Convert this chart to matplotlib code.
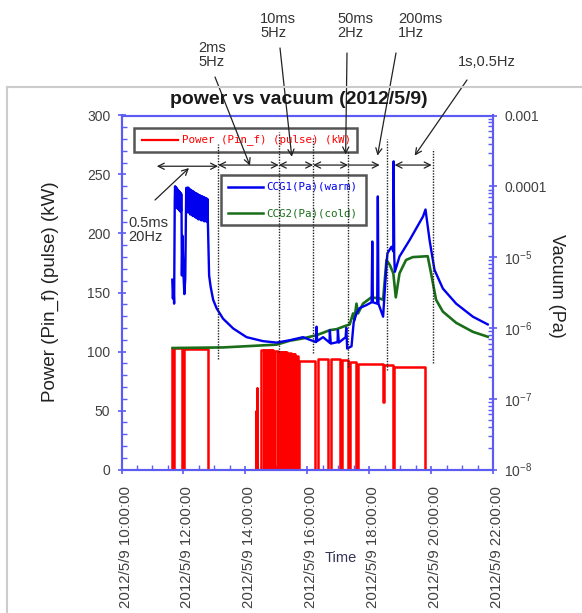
import datetime as dt
import numpy as np
import matplotlib
matplotlib.use("Agg")
import matplotlib.pyplot as plt
import matplotlib.dates as mdates
import matplotlib.transforms as mtransforms
from matplotlib.lines import Line2D
from matplotlib.patches import Rectangle
from matplotlib.ticker import MultipleLocator, FuncFormatter, LogLocator, NullFormatter

plt.rcParams["font.family"] = ["Liberation Sans", "DejaVu Sans"]
plt.rcParams["mathtext.fontset"] = "custom"
plt.rcParams["mathtext.rm"] = "Liberation Sans"
plt.rcParams["mathtext.it"] = "Liberation Sans:italic"

BASE = dt.datetime(2012, 5, 9)

# --------------------
# Data (hours of 2012/5/9)
# --------------------
# power (kW), step-post levels
power_h = [11.62, 11.64, 11.66, 11.69, 11.94, 12.02, 12.80,
           14.33, 14.35, 14.37, 14.39, 14.52,
           14.60, 14.61, 14.68, 14.69, 14.77, 14.78, 14.85, 14.86, 14.90, 14.95,
           15.06, 15.07, 15.14, 15.15, 15.22, 15.23, 15.28, 15.29, 15.33, 15.40,
           15.46, 15.52, 15.56, 15.58, 15.60, 15.67, 15.70, 15.72,
           16.24, 16.35, 16.67, 16.78, 17.05, 17.11, 17.32, 17.39, 17.59, 17.64,
           18.45, 18.47, 18.77, 18.81, 19.79, 21.51]
power_kw = [0, 103, 0, 103, 0, 102.5, 0,
            50, 0, 69, 0, 101,
            0, 101, 0, 101, 0, 101, 0, 101, 0, 100.5,
            0, 100, 0, 100, 0, 99.5, 0, 99.5, 0, 99,
            0, 98, 0, 97.5, 0, 96, 0, 92,
            0, 94, 0, 93.5, 0, 93, 0, 91, 0, 89,
            57, 88.5, 0, 87, 0, 0]

# CCG1 (warm), Pa
ccg1_start_h = [11.64, 11.66, 11.68, 11.70, 11.72]
ccg1_start_pa = [4.8e-6, 2.6e-6, 4.0e-6, 2.2e-6, 6.0e-5]
osc1_h = [11.73, 11.75, 11.77, 11.79, 11.81, 11.83, 11.85, 11.87, 11.89, 11.91, 11.93]
osc1_hi = [1.0e-4, 9.8e-5, 9.5e-5, 9.3e-5, 9.0e-5, 8.8e-5, 8.6e-5, 8.4e-5, 8.2e-5, 8.0e-5, 7.8e-5]
osc1_lo = [8.0e-5, 6.0e-5, 5.0e-5, 5.5e-5, 4.8e-5, 5.0e-5, 4.6e-5, 4.8e-5, 4.4e-5, 4.5e-5, 4.3e-5]
ccg1_gap_h = [11.95, 11.97, 12.00, 12.03, 12.06, 12.09]
ccg1_gap_pa = [5.5e-6, 2.0e-5, 6.0e-6, 3.0e-6, 5.0e-6, 9.5e-5]
osc2_h = [12.12, 12.15, 12.18, 12.21, 12.24, 12.27, 12.30, 12.33, 12.36, 12.39, 12.42,
          12.45, 12.48, 12.51, 12.54, 12.57, 12.60, 12.63, 12.66, 12.69, 12.72, 12.75, 12.78]
osc2_hi = [9.5e-5, 9.6e-5, 9.3e-5, 9.0e-5, 8.9e-5, 8.7e-5, 8.5e-5, 8.4e-5, 8.2e-5, 8.0e-5, 7.9e-5,
           7.8e-5, 7.6e-5, 7.5e-5, 7.4e-5, 7.3e-5, 7.2e-5, 7.1e-5, 7.0e-5, 6.9e-5, 6.8e-5, 6.7e-5, 6.6e-5]
osc2_lo = [4.3e-5, 4.5e-5, 4.2e-5, 4.0e-5, 4.1e-5, 3.9e-5, 3.8e-5, 3.9e-5, 3.7e-5, 3.6e-5, 3.7e-5,
           3.5e-5, 3.4e-5, 3.5e-5, 3.4e-5, 3.3e-5, 3.4e-5, 3.3e-5, 3.2e-5, 3.3e-5, 3.2e-5, 3.2e-5, 3.1e-5]
ccg1_tail_h = [12.83, 12.88, 12.96, 13.07, 13.28, 13.61, 14.04, 14.57, 15.01, 15.44, 15.86,
               16.28, 16.30, 16.32, 16.51, 16.72, 16.73, 16.76, 16.98, 16.99, 17.02, 17.24, 17.26,
               17.29, 17.43, 17.50, 17.59, 17.69, 17.91, 18.08, 18.10, 18.12, 18.26, 18.28, 18.30,
               18.45, 18.56, 18.59, 18.72, 18.78, 18.79, 18.81, 18.83, 18.98, 19.31, 19.74, 19.82,
               19.95, 20.11, 20.38, 20.81, 21.35, 21.83]
ccg1_tail_pa = [5.5e-6, 3.8e-6, 2.5e-6, 1.9e-6, 1.35e-6, 9.8e-7, 7.4e-7, 6.5e-7, 6.2e-7, 6.7e-7, 7.4e-7,
                6.3e-7, 1.04e-6, 6.5e-7, 7.4e-7, 6.2e-7, 9.3e-7, 6.0e-7, 6.3e-7, 9.3e-7, 6.2e-7, 7.4e-7, 1.0e-6,
                5.1e-7, 5.5e-7, 1.2e-6, 1.6e-6, 1.9e-6, 2.1e-6, 2.3e-6, 1.66e-5, 2.3e-6, 2.2e-6, 7.2e-5, 2.2e-6,
                1.44e-6, 8.0e-6, 1.13e-5, 1.4e-5, 1.2e-5, 2.25e-4, 1.0e-5, 6.2e-6, 1.02e-5, 1.75e-5, 3.75e-5, 4.7e-5,
                1.75e-5, 6.6e-6, 3.6e-6, 2.2e-6, 1.44e-6, 1.12e-6]

# CCG2 (cold), Pa
ccg2_h = [11.65, 13.28, 15.01, 15.44, 15.86, 16.30, 16.50, 16.73, 16.95, 17.16, 17.37, 17.48, 17.52,
          17.59, 17.64, 17.80, 18.07, 18.34, 18.45, 18.56, 18.67, 18.78, 18.86, 18.98, 19.19, 19.41,
          19.89, 20.00, 20.16, 20.38, 20.81, 21.35, 21.83]
ccg2_pa = [5.2e-7, 5.3e-7, 5.8e-7, 6.6e-7, 7.1e-7, 7.9e-7, 8.5e-7, 9.3e-7, 9.6e-7, 1.04e-6, 1.12e-6, 1.6e-6, 1.3e-6,
           2.2e-6, 1.6e-6, 2.2e-6, 2.7e-6, 2.6e-6, 2.5e-6, 9.1e-6, 7.7e-6, 5.9e-6, 2.7e-6, 5.9e-6, 9.1e-6, 1.0e-5,
           1.03e-5, 5.9e-6, 2.5e-6, 1.7e-6, 1.18e-6, 8.8e-7, 7.5e-7]

# pulse-mode annotations
mode_edges_h = [13.12, 15.08, 16.19, 17.32, 18.58, 20.06]
mode_edge_top = [276, 286, 281, 270, 280, 272]
mode_edge_bot = [94, 100, 99, 87, 84, 90]
span_start_h = [11.14, 13.12, 15.08, 16.19, 17.32, 18.82]
span_end_h = [13.12, 15.08, 16.19, 17.32, 18.34, 20.02]
span_kw = [257, 258, 258, 258, 258, 258]
span_style = ["<->", "<->", "<->", "<->", "->", "<->"]
mode_labels = ["0.5ms\n20Hz", "2ms\n5Hz", "10ms\n5Hz", "50ms\n2Hz", "200ms\n1Hz", "1s,0.5Hz"]
label_px = [(128, 230), (198, 55), (260, 26), (337, 26), (398, 26), (458, 62)]
arrow_tail_px = [(155, 200), (215, 77), (280, 48), (347, 53), (396, 53), (467, 80)]
arrow_head_h = [12.18, 14.15, 15.50, 17.24, 18.27, 19.47]
arrow_head_kw = [255.5, 257.5, 265, 267, 266, 266]


def to_num(hours):
    return mdates.date2num([BASE + dt.timedelta(hours=h) for h in hours])


# build the blue trace (oscillating blocks drawn as zig-zag between envelopes)
def zigzag(hs, hi, lo):
    out_h, out_p = [], []
    for i, h in enumerate(hs):
        out_h += [h, h + 0.01]
        out_p += [hi[i], lo[i]]
    return out_h, out_p


z1_h, z1_p = zigzag(osc1_h, osc1_hi, osc1_lo)
z2_h, z2_p = zigzag(osc2_h, osc2_hi, osc2_lo)
ccg1_h = ccg1_start_h + z1_h + ccg1_gap_h + z2_h + ccg1_tail_h
ccg1_pa = ccg1_start_pa + z1_p + ccg1_gap_pa + z2_p + ccg1_tail_pa

SPINE = "#5c5cf5"
TXT = "#404040"
BLUE = "#0000ee"

fig = plt.figure(figsize=(5.82, 6.13), dpi=100)
ax = fig.add_axes([121.5 / 582, 1 - 469.5 / 613, 371.5 / 582, 354 / 613])
ax2 = ax.twinx()

ax.step(to_num(power_h), power_kw, where="post", color="#ff0000", lw=1.8, zorder=2)
ax2.plot(to_num(ccg2_h), ccg2_pa, color="#1a6e1a", lw=1.9, zorder=2)
ax2.plot(to_num(ccg1_h), ccg1_pa, color=BLUE, lw=1.7, zorder=3)
for oh, ohi, olo in ((osc1_h, osc1_hi, osc1_lo), (osc2_h, osc2_hi, osc2_lo)):
    ax2.fill_between(to_num(oh), olo, ohi, color=BLUE, lw=0, zorder=3)

ax.set_xlim(to_num([10.0])[0], to_num([22.0])[0])
ax.set_ylim(0, 300)
ax2.set_yscale("log")
ax2.set_ylim(1e-8, 1e-3)

# --------------------
# Ticks / spines
# --------------------
ax.xaxis.set_major_locator(mdates.HourLocator(byhour=range(0, 24, 2)))
ax.xaxis.set_minor_locator(mdates.MinuteLocator(byminute=[0, 30]))
ax.xaxis.set_major_formatter(FuncFormatter(
    lambda v, p: (lambda d: f"{d.year}/{d.month}/{d.day} {d:%H:%M:%S}")(mdates.num2date(v))))
ax.yaxis.set_major_locator(MultipleLocator(50))
ax.yaxis.set_minor_locator(MultipleLocator(10))

def vac_fmt(v, p):
    e = int(round(np.log10(v)))
    if e == -3:
        return "0.001"
    if e == -4:
        return "0.0001"
    return f"$10^{{{e}}}$"

ax2.yaxis.set_major_locator(LogLocator(base=10, numticks=10))
ax2.yaxis.set_minor_locator(LogLocator(base=10, subs=np.arange(2, 10), numticks=20))
ax2.yaxis.set_major_formatter(FuncFormatter(vac_fmt))
ax2.yaxis.set_minor_formatter(NullFormatter())

for a in (ax, ax2):
    for s in a.spines.values():
        s.set_color(SPINE)
        s.set_linewidth(1.5)

ax.tick_params(axis="x", which="major", direction="inout", length=6, width=1.2, color=SPINE,
               labelsize=10.8, labelcolor=TXT, pad=9, labelrotation=90)
ax.tick_params(axis="x", which="minor", direction="in", length=3.5, width=1, color=SPINE)
ax.tick_params(axis="y", which="major", direction="inout", length=6, width=1.2, color=SPINE,
               labelsize=10, labelcolor=TXT, pad=5)
ax.tick_params(axis="y", which="minor", direction="in", length=3.5, width=1, color=SPINE)
ax2.tick_params(axis="y", which="major", direction="inout", length=6, width=1.2, color=SPINE,
                labelsize=10, labelcolor=TXT, pad=5)
ax2.tick_params(axis="y", which="minor", direction="in", length=3.5, width=1, color=SPINE)

# time labels sit a few pixels right of their ticks in the original
shift = mtransforms.ScaledTranslation(4 / 100, 0, fig.dpi_scale_trans)
for lab in ax.get_xticklabels():
    lab.set_transform(lab.get_transform() + shift)

# --------------------
# Legend boxes (drawn by hand like the original)
# --------------------
MONO = "DejaVu Sans Mono"
ax2.add_patch(Rectangle((0.0336, 0.897), 0.600, 0.068, transform=ax2.transAxes,
                        facecolor="white", edgecolor="#555555", lw=1.8, zorder=5))
ax2.plot([0.055, 0.152], [0.931, 0.931], transform=ax2.transAxes, color="#ff0000", lw=1.6, zorder=6)
ax2.text(0.163, 0.931, "Power (Pin_f) (pulse) (kW)", transform=ax2.transAxes, color="#ff0000",
         fontsize=7.8, family=MONO, va="center", zorder=6)

ax2.add_patch(Rectangle((0.268, 0.691), 0.390, 0.141, transform=ax2.transAxes,
                        facecolor="white", edgecolor="#555555", lw=1.8, zorder=5))
ax2.plot([0.287, 0.381], [0.799, 0.799], transform=ax2.transAxes, color=BLUE, lw=1.8, zorder=6)
ax2.text(0.389, 0.799, "CCG1(Pa)(warm)", transform=ax2.transAxes, color=BLUE,
         fontsize=7.8, family=MONO, va="center", zorder=6)
ax2.plot([0.287, 0.381], [0.724, 0.724], transform=ax2.transAxes, color="#1a6e1a", lw=1.8, zorder=6)
ax2.text(0.389, 0.724, "CCG2(Pa)(cold)", transform=ax2.transAxes, color="#1a6e1a",
         fontsize=7.8, family=MONO, va="center", zorder=6)

# --------------------
# Pulse-mode annotations
# --------------------
edge_x = to_num(mode_edges_h)
for x, top, bot in zip(edge_x, mode_edge_top, mode_edge_bot):
    ax2.plot([x, x], [bot, top], transform=ax.transData, color="#222222", ls=(0, (1, 1)), lw=1.0, zorder=7)

for x0, x1, y, st in zip(to_num(span_start_h), to_num(span_end_h), span_kw, span_style):
    ax2.annotate("", xy=(x1, y), xycoords=ax.transData, xytext=(x0, y), textcoords=ax.transData,
                 arrowprops=dict(arrowstyle=st, color="#222222", lw=0.9, shrinkA=0, shrinkB=0,
                                 mutation_scale=11), zorder=7)

for (tx, ty), hx, hy in zip(arrow_tail_px, to_num(arrow_head_h), arrow_head_kw):
    ax2.annotate("", xy=(hx, hy), xycoords=ax.transData, xytext=(tx, 613 - ty),
                 textcoords="figure pixels", annotation_clip=False,
                 arrowprops=dict(arrowstyle="->", color="#222222", lw=0.9, shrinkA=0, shrinkB=0,
                                 mutation_scale=11), zorder=7)

for lab, (lx, ly) in zip(mode_labels, label_px):
    fig.text(lx / 582, 1 - ly / 613, lab, fontsize=10.5, color="#333333", ha="left", va="center",
             linespacing=1.05)

# --------------------
# Titles / labels
# --------------------
fig.text(299 / 582, 1 - 100 / 613, "power vs vacuum (2012/5/9)", fontsize=14, weight="bold",
         color="#1a1a1a", ha="center", va="center")
fig.text(50 / 582, 1 - 292 / 613, "Power (Pin_f) (pulse) (kW)", fontsize=13.5, color="#222222",
         rotation=90, ha="center", va="center")
fig.text(556 / 582, 1 - 286 / 613, "Vacuum (Pa)", fontsize=13, color="#222222",
         rotation=270, ha="center", va="center")
fig.text(341 / 582, 1 - 558 / 613, "Time", fontsize=10.5, color="#333355", ha="center", va="center")

# outer panel frame (open on right/bottom as in the screenshot)
fig.add_artist(Line2D([7 / 582, 1.0], [1 - 87 / 613, 1 - 87 / 613], transform=fig.transFigure,
                      color="#cccccc", lw=1.5))
fig.add_artist(Line2D([7 / 582, 7 / 582], [0.0, 1 - 87 / 613], transform=fig.transFigure,
                      color="#cccccc", lw=1.5))

fig.savefig("out.png", dpi=100)
